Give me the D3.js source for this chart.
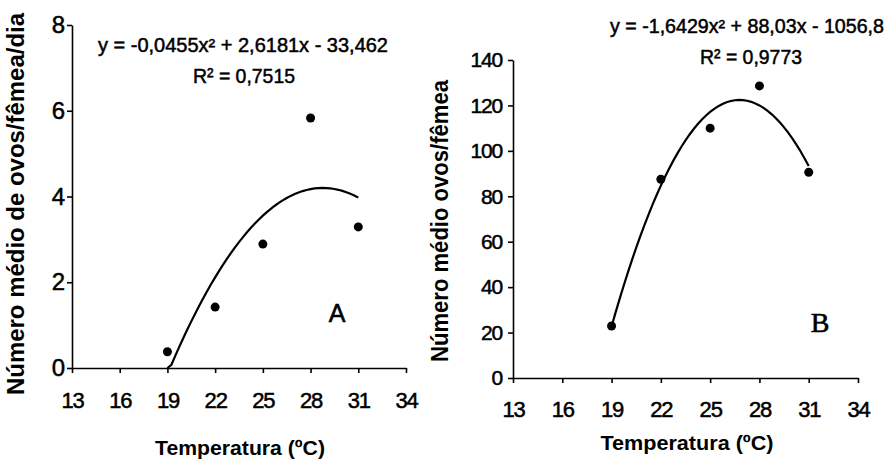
<!DOCTYPE html>
<html>
<head>
<meta charset="utf-8">
<script src="https://cdn.jsdelivr.net/npm/d3@7"></script>
<style>
  body { margin: 0; background: #fff; }
  text { font-family: "Liberation Sans", Arial, sans-serif; fill: #000; }
</style>
</head>
<body>
<script>
const svgW = 895;
const svgH = 460;

// dados
const temps = [19, 22, 25, 28, 31];
const ovosDia = [0.38, 1.42, 2.89, 5.83, 3.29];       // painel A
const ovosFemea = [22.9, 87.5, 110, 128.6, 90.6];     // painel B
const xTicks = [13, 16, 19, 22, 25, 28, 31, 34];
const yTicksA = [0, 2, 4, 6, 8];
const yTicksB = [0, 20, 40, 60, 80, 100, 120, 140];
const coefA = [-0.0455, 2.6181, -33.462];  // linha de tendência polinomial
const coefB = [-1.6429, 88.03, -1056.8];

const svg = d3.select('body')
              .append('svg')
              .attr('width', svgW)
              .attr('height', svgH);

function panel(opt) {
  const x = d3.scaleLinear().domain([13, 34]).range(opt.xr);
  const y = d3.scaleLinear().domain(opt.yd).range(opt.yr);
  const g = svg.append('g');

  // eixo x
  const xa = g.append('g')
    .attr('transform', `translate(0, ${opt.yr[0]})`)
    .call(d3.axisBottom(x).tickValues(xTicks).tickSize(5).tickSizeOuter(0));
  xa.selectAll('text')
    .attr('y', opt.xLabelY).attr('dy', null)
    .attr('stroke', '#000').attr('stroke-width', 0.5)
    .style('font-size', '22px').style('letter-spacing', '-1.2px');

  // eixo y
  const ya = g.append('g')
    .attr('transform', `translate(${opt.xr[0]}, 0)`)
    .call(d3.axisLeft(y).tickValues(opt.yTicks).tickSize(5).tickSizeOuter(0));
  ya.selectAll('text')
    .attr('x', opt.yLabelX)
    .attr('stroke', '#000').attr('stroke-width', 0.5)
    .style('font-size', opt.yFont).style('letter-spacing', '-1.2px');

  g.selectAll('.domain, .tick line').attr('stroke', '#000').attr('stroke-width', 1.6);

  // curva de tendência
  const c = opt.coef;
  const xs = d3.range(19, 31.001, 0.25);
  const line = d3.line()
    .x(d => x(d))
    .y(d => y(Math.max(0, c[0] * d * d + c[1] * d + c[2])));
  g.append('path')
    .datum(xs)
    .attr('d', line)
    .attr('fill', 'none')
    .attr('stroke', '#000')
    .attr('stroke-width', 2.2);

  // pontos observados
  g.selectAll('circle')
    .data(temps)
    .enter()
    .append('circle')
    .attr('cx', d => x(d))
    .attr('cy', (d, i) => y(opt.values[i]))
    .attr('r', 4.5)
    .attr('fill', '#000');

  // títulos dos eixos
  g.append('text')
    .attr('transform', `translate(${opt.yTitle[0]}, ${opt.yTitle[1]}) rotate(-90)`)
    .attr('text-anchor', 'middle')
    .attr('textLength', opt.yTitle[2])
    .attr('lengthAdjust', 'spacingAndGlyphs')
    .style('font-size', '23px').style('font-weight', 'bold')
    .text(opt.yTitleText);

  g.append('text')
    .attr('x', opt.xTitle[0]).attr('y', opt.xTitle[1])
    .attr('text-anchor', 'middle')
    .attr('textLength', opt.xTitle[2])
    .attr('lengthAdjust', 'spacingAndGlyphs')
    .style('font-size', '21px').style('font-weight', 'bold')
    .text('Temperatura (ºC)');

  // equação e R²
  g.append('text')
    .attr('x', opt.eq[0]).attr('y', opt.eq[1])
    .attr('text-anchor', 'middle')
    .attr('textLength', opt.eq[2])
    .attr('lengthAdjust', 'spacingAndGlyphs')
    .attr('stroke', '#000').attr('stroke-width', 0.5)
    .style('font-size', '19.5px')
    .text(opt.eqText);

  g.append('text')
    .attr('x', opt.r2[0]).attr('y', opt.r2[1])
    .attr('text-anchor', 'middle')
    .attr('textLength', opt.r2[2])
    .attr('lengthAdjust', 'spacingAndGlyphs')
    .attr('stroke', '#000').attr('stroke-width', 0.5)
    .style('font-size', '21px')
    .text('R² = ' + opt.r2Text);

  // letra do painel
  g.append('text')
    .attr('x', opt.letter[0]).attr('y', opt.letter[1])
    .attr('text-anchor', 'middle')
    .attr('stroke', '#000').attr('stroke-width', 0.6)
    .style('font-family', opt.letterFont)
    .style('font-size', opt.letterSize)
    .text(opt.letterText);
}

panel({
  xr: [72, 406], yd: [0, 8], yr: [368, 25],
  yTicks: yTicksA, values: ovosDia, coef: coefA,
  xLabelY: 40, yLabelX: -8, yFont: '24px',
  yTitle: [24, 204, 382], yTitleText: 'Número médio de ovos/fêmea/dia',
  xTitle: [240, 455, 170],
  eq: [243, 52, 290], eqText: 'y = -0,0455x² + 2,6181x - 33,462',
  r2: [244, 83, 102], r2Text: '0,7515',
  letter: [337, 322], letterText: 'A', letterFont: '"Liberation Sans", Arial, sans-serif', letterSize: '25px'
});

panel({
  xr: [513, 858], yd: [0, 140], yr: [378, 60],
  yTicks: yTicksB, values: ovosFemea, coef: coefB,
  xLabelY: 39, yLabelX: -11, yFont: '21px',
  yTitle: [448, 221, 282], yTitleText: 'Número médio ovos/fêmea',
  xTitle: [687, 450, 173],
  eq: [747, 33, 274], eqText: 'y = -1,6429x² + 88,03x - 1056,8',
  r2: [751, 64, 102], r2Text: '0,9773',
  letter: [820, 332], letterText: 'B', letterFont: '"Liberation Serif", "Times New Roman", serif', letterSize: '28px'
});
</script>
</body>
</html>
